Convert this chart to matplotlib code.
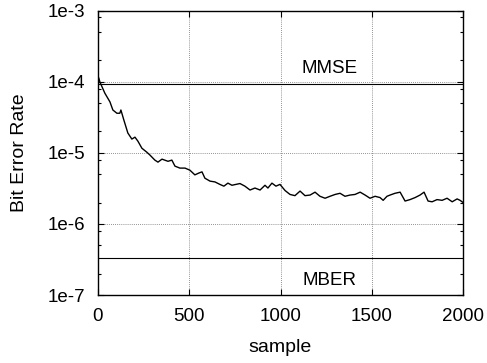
import numpy as np
import matplotlib
matplotlib.use('Agg')
import matplotlib.pyplot as plt
from matplotlib.ticker import LogLocator, FixedLocator, NullLocator

plt.rcParams['font.family'] = ['Liberation Sans', 'DejaVu Sans']

# adaptive BER curve
sample = [5, 11, 38, 66, 82, 104, 120, 126, 142, 164, 186, 203, 219, 241, 268,
          285, 312, 329, 351, 384, 405, 422, 449, 477, 504, 531, 553, 570, 586,
          614, 641, 668, 690, 712, 734, 756, 778, 805, 833, 860, 888, 915, 931,
          953, 975, 997, 1025, 1052, 1079, 1107, 1134, 1162, 1189, 1216, 1244,
          1271, 1299, 1326, 1353, 1381, 1408, 1436, 1463, 1490, 1518, 1545,
          1562, 1583, 1600, 1627, 1655, 1682, 1709, 1737, 1764, 1786, 1808,
          1830, 1857, 1885, 1912, 1940, 1967, 1983, 2000]
ber = [1.12e-4, 9.9e-5, 6.9e-5, 5.2e-5, 4.0e-5, 3.6e-5, 3.6e-5, 4.0e-5, 2.9e-5,
       1.9e-5, 1.56e-5, 1.66e-5, 1.46e-5, 1.16e-5, 1.02e-5, 9.3e-6, 7.9e-6,
       7.4e-6, 8.15e-6, 7.6e-6, 7.9e-6, 6.5e-6, 6.1e-6, 6.1e-6, 5.7e-6, 4.9e-6,
       5.2e-6, 5.4e-6, 4.4e-6, 4.0e-6, 3.9e-6, 3.6e-6, 3.4e-6, 3.75e-6, 3.5e-6,
       3.6e-6, 3.7e-6, 3.4e-6, 3.0e-6, 3.2e-6, 3.0e-6, 3.5e-6, 3.2e-6, 3.75e-6,
       3.4e-6, 3.6e-6, 2.95e-6, 2.6e-6, 2.5e-6, 2.9e-6, 2.5e-6, 2.55e-6, 2.8e-6,
       2.45e-6, 2.3e-6, 2.45e-6, 2.6e-6, 2.7e-6, 2.45e-6, 2.55e-6, 2.6e-6,
       2.8e-6, 2.55e-6, 2.3e-6, 2.45e-6, 2.35e-6, 2.15e-6, 2.45e-6, 2.55e-6,
       2.7e-6, 2.8e-6, 2.1e-6, 2.2e-6, 2.35e-6, 2.55e-6, 2.8e-6, 2.1e-6,
       2.05e-6, 2.2e-6, 2.15e-6, 2.3e-6, 2.05e-6, 2.25e-6, 2.15e-6, 2.0e-6]

mmse = 9.4e-5
mber = 3.3e-7

fig = plt.figure(figsize=(4.87, 3.63), dpi=100)
ax = fig.add_axes([0.201, 0.187, 0.750, 0.784])

ax.set_yscale('log')
ax.set_xlim(0, 2000)
ax.set_ylim(1e-7, 1e-3)

ax.grid(True, which='major', color='#707070', linestyle=(0, (1, 1.5)), linewidth=0.6)

ax.axhline(mmse, color='black', linewidth=0.8)
ax.axhline(mber, color='black', linewidth=0.8)
ax.plot(sample, ber, color='black', linewidth=1.0)

ax.text(1270, 1.55e-4, 'MMSE', ha='center', va='center', fontsize=13.5)
ax.text(1270, 1.62e-7, 'MBER', ha='center', va='center', fontsize=13.5)

ax.xaxis.set_major_locator(FixedLocator([0, 500, 1000, 1500, 2000]))
ax.xaxis.set_minor_locator(NullLocator())
ax.yaxis.set_major_locator(FixedLocator([1e-7, 1e-6, 1e-5, 1e-4, 1e-3]))
ax.yaxis.set_minor_locator(LogLocator(base=10, subs=(2, 5, 8)))
ax.set_yticklabels(['1e-7', '1e-6', '1e-5', '1e-4', '1e-3'])
ax.yaxis.set_minor_formatter(plt.NullFormatter())

ax.tick_params(which='both', direction='in', top=True, right=True, labelsize=13.5)
ax.tick_params(which='major', length=4.5, width=0.8)
ax.tick_params(which='minor', length=2.5, width=0.8)
ax.tick_params(axis='y', pad=9)
ax.tick_params(axis='x', pad=9)
for s in ax.spines.values():
    s.set_linewidth(1.0)

ax.set_xlabel('sample', fontsize=14)
ax.set_ylabel('Bit Error Rate', fontsize=14)
ax.yaxis.set_label_coords(-0.19, 0.5)
ax.xaxis.set_label_coords(0.5, -0.155)

fig.savefig('out.png', dpi=100)
